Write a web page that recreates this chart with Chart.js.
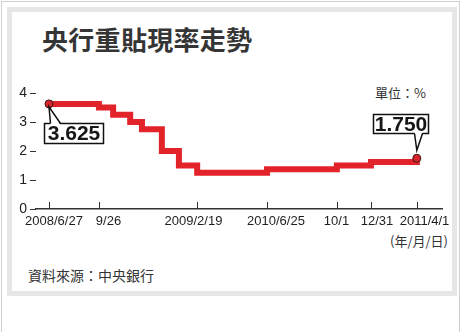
<!DOCTYPE html>
<html><head><meta charset="utf-8">
<script src="https://cdn.jsdelivr.net/npm/chart.js@4/dist/chart.umd.min.js"></script>
<style>
html,body{margin:0;padding:0;background:#fff;}
body{width:464px;height:332px;position:relative;overflow:hidden;font-family:"Noto Sans CJK TC","Noto Sans CJK SC",sans-serif;color:#333;}
#outer{position:absolute;left:1px;top:1px;width:459px;height:400px;border:1px solid #cfcfcf;box-sizing:border-box;}
#panel{position:absolute;left:7px;top:7px;width:450px;height:289px;border:5px solid #e6e6e6;box-sizing:border-box;background:#fff;}
.t{position:absolute;white-space:nowrap;}
#title{left:42px;top:26px;font-size:26px;line-height:26px;font-weight:700;color:#353535;letter-spacing:0.3px;}
#unit{left:375px;top:86px;font-size:13px;line-height:13px;color:#333;}
#dateunit{right:16px;top:234px;font-size:13px;line-height:13px;color:#333;}
#source{left:28px;top:268px;font-size:14px;line-height:14px;color:#333;}
#c{position:absolute;left:0;top:0;}
</style></head>
<body>
<div id="outer"></div>
<div id="panel"></div>
<div class="t" id="title">央行重貼現率走勢</div>
<div class="t" id="unit">單位：%</div>
<div class="t" id="dateunit">(年/月/日)</div>
<div class="t" id="source">資料來源：中央銀行</div>
<canvas id="c" width="464" height="332"></canvas>
<script>
// Rate-change dates and discount rate (%)
const dates = ['2008/6/27','2008/9/26','2008/10/10','2008/10/30','2008/11/10','2008/12/11','2009/1/8','2009/2/19','2010/6/25','2010/10/1','2010/12/31','2011/4/1'];
const rates = [3.625,3.5,3.25,3.0,2.75,2.0,1.5,1.25,1.375,1.5,1.625,1.75];
// schematic (non-linear) position of each date along the axis, 0-100
const axisPos = [3.2,15.5,19.0,23.2,26.1,31.0,35.2,39.7,56.9,74.1,82.5,93.8];
// labelled x ticks
const tickPos = [3.2,15.5,39.7,56.9,74.1,82.5,93.8];
const tickLabels = ['2008/6/27','9/26','2009/2/19','2010/6/25','10/1','12/31','2011/4/1'];
const yMin = 0, yMax = 4, yStep = 1;

const lastIdx = rates.length - 1;

const xTickPlugin = {
  id: 'xTicks',
  afterDraw(chart, args, opts) {
    const s = chart.scales.x, ctx = chart.ctx;
    const bottom = chart.chartArea.bottom;
    ctx.save();
    ctx.strokeStyle = '#333'; ctx.lineWidth = 1;
    ctx.fillStyle = '#1e1e1e';
    ctx.font = '13px "Liberation Sans", Arial, sans-serif';
    ctx.textAlign = 'center'; ctx.textBaseline = 'alphabetic';
    s.ticks.forEach((t, i) => {
      const x = Math.round(s.getPixelForValue(t.value)) + 0.5;
      ctx.beginPath(); ctx.moveTo(x, bottom - 7); ctx.lineTo(x, bottom); ctx.stroke();
      ctx.fillText(tickLabels[i], x + (opts.shift[i] || 0), bottom + 16);
    });
    ctx.restore();
  }
};

const calloutPlugin = {
  id: 'callouts',
  afterDatasetsDraw(chart, args, opts) {
    const meta = chart.getDatasetMeta(0), ctx = chart.ctx;
    ctx.save();
    opts.items.forEach(it => {
      const el = meta.data[it.index];
      const px = el.x, py = el.y;
      const bx = Math.round(px + it.dx) + 0.5, by = Math.round(py + it.dy) + 0.5;
      ctx.lineWidth = 1.5; ctx.strokeStyle = '#111'; ctx.fillStyle = '#fff';
      ctx.fillRect(bx, by, it.w, it.h);
      ctx.strokeRect(bx, by, it.w, it.h);
      const baseY = it.dy > 0 ? by : by + it.h;
      const inset = it.dy > 0 ? 1.5 : -1.5;
      const tx = px + it.tip[0], ty = py + it.tip[1];
      ctx.beginPath();
      ctx.moveTo(bx + it.base[0], baseY + inset);
      ctx.lineTo(tx, ty);
      ctx.lineTo(bx + it.base[1], baseY + inset);
      ctx.closePath(); ctx.fill();
      ctx.beginPath();
      ctx.moveTo(bx + it.base[0], baseY);
      ctx.lineTo(tx, ty);
      ctx.lineTo(bx + it.base[1], baseY);
      ctx.stroke();
      ctx.fillStyle = '#161616';
      ctx.font = 'bold 21px "Liberation Sans", Arial, sans-serif';
      ctx.textAlign = 'center'; ctx.textBaseline = 'middle';
      ctx.fillText(rates[it.index].toFixed(3), bx + it.w / 2, by + it.h / 2 + 1);
    });
    ctx.restore();
  }
};

new Chart(document.getElementById('c'), {
  type: 'line',
  data: {
    datasets: [{
      data: axisPos.map((x, i) => ({ x: x, y: rates[i] })),
      stepped: true,
      borderColor: '#e2232a',
      borderWidth: 6,
      borderJoinStyle: 'miter',
      borderCapStyle: 'butt',
      fill: false,
      pointRadius: c => (c.dataIndex === 0 || c.dataIndex === lastIdx) ? 4 : 0,
      pointBackgroundColor: '#d8242c',
      pointBorderColor: '#3a1a1a',
      pointBorderWidth: 1
    }]
  },
  options: {
    responsive: false,
    animation: false,
    events: [],
    layout: { padding: { left: 0, right: 22, top: 93, bottom: 83 } },
    plugins: {
      legend: { display: false },
      tooltip: { enabled: false },
      xTicks: { shift: [4.5, 9, -4, 8.5, -1, 5.5, 7] },
      callouts: {
        items: [
          { index: 0, dx: -5, dy: 19, w: 59, h: 20, base: [6, 16], tip: [0, 3] },
          { index: lastIdx, dx: -44, dy: -44, w: 55, h: 19, base: [41, 49], tip: [0, -8] }
        ]
      }
    },
    scales: {
      x: {
        type: 'linear', min: 0, max: 100,
        afterBuildTicks: s => { s.ticks = tickPos.map(v => ({ value: v })); },
        afterFit: s => { s.height = 40; },
        grid: { display: false },
        border: { display: true, color: '#333', width: 1.5 },
        ticks: { display: false }
      },
      y: {
        min: yMin, max: yMax,
        afterFit: s => { s.width = 36; },
        ticks: { stepSize: yStep, padding: 3, color: '#222', font: { family: '"Liberation Sans", Arial, sans-serif', size: 14 } },
        grid: { drawOnChartArea: false, drawTicks: true, tickLength: 6, color: '#333', lineWidth: 1 },
        border: { display: false }
      }
    }
  },
  plugins: [xTickPlugin, calloutPlugin]
});
</script>
</body></html>
